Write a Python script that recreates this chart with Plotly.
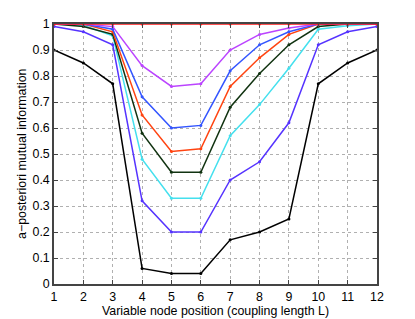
import plotly.graph_objects as go

positions = [1, 2, 3, 4, 5, 6, 7, 8, 9, 10, 11, 12]

red_vals = [1, 1, 1, 1, 1, 1, 1, 1, 1, 1, 1, 1]
purple_vals = [1.0, 1.0, 0.99, 0.84, 0.76, 0.77, 0.90, 0.96, 0.985, 1.0, 1.0, 1.0]
blue_vals = [1.0, 1.0, 0.98, 0.72, 0.60, 0.61, 0.82, 0.92, 0.97, 1.0, 1.0, 1.0]
orange_vals = [1.0, 1.0, 0.97, 0.65, 0.51, 0.52, 0.76, 0.87, 0.96, 1.0, 1.0, 1.0]
green_vals = [1.0, 0.99, 0.96, 0.58, 0.43, 0.43, 0.68, 0.81, 0.92, 0.99, 1.0, 1.0]
cyan_vals = [1.0, 0.995, 0.955, 0.48, 0.33, 0.33, 0.57, 0.69, 0.83, 0.98, 0.993, 1.0]
violet_vals = [0.99, 0.97, 0.92, 0.32, 0.20, 0.20, 0.40, 0.47, 0.62, 0.92, 0.97, 0.99]
black_vals = [0.90, 0.85, 0.77, 0.06, 0.04, 0.04, 0.17, 0.20, 0.25, 0.77, 0.85, 0.90]

y_ticks = [0, 0.1, 0.2, 0.3, 0.4, 0.5, 0.6, 0.7, 0.8, 0.9, 1]
y_tick_labels = ["0", "0.1", "0.2", "0.3", "0.4", "0.5", "0.6", "0.7", "0.8", "0.9", "1"]

series = [
    (black_vals, "#000000"),
    (violet_vals, "#5533ff"),
    (cyan_vals, "#44e0ee"),
    (green_vals, "#113311"),
    (orange_vals, "#ff4411"),
    (blue_vals, "#3355ff"),
    (purple_vals, "#bb44ff"),
    (red_vals, "#ff1a1a"),
]

fig = go.Figure()
for vals, col in series:
    fig.add_trace(go.Scatter(
        x=positions, y=vals, mode="lines+markers",
        line=dict(color=col, width=1.5),
        marker=dict(color=col, size=3),
        showlegend=False, cliponaxis=False,
    ))

font = dict(family="Liberation Sans, Arial, sans-serif", size=12.4, color="#000000")

fig.update_layout(
    width=407, height=311,
    margin=dict(l=46, r=38, t=16, b=35),
    paper_bgcolor="white", plot_bgcolor="white",
    font=font,
    xaxis=dict(
        range=[1, 12], tickmode="array", tickvals=positions,
        ticktext=[str(p) for p in positions],
        showgrid=True, gridcolor="#b0b0b0", griddash="dot", gridwidth=1,
        showline=True, linecolor="#444444", linewidth=1.5, mirror="ticks",
        ticks="inside", ticklen=4, tickcolor="#444444",
        zeroline=False, automargin=False,
        title=dict(text="Variable node position (coupling length L)", standoff=3, font=font),
    ),
    yaxis=dict(
        range=[0, 1], tickmode="array", tickvals=y_ticks, ticktext=y_tick_labels,
        showgrid=True, gridcolor="#b0b0b0", griddash="dot", gridwidth=1,
        showline=True, linecolor="#444444", linewidth=1.5, mirror="ticks",
        ticks="inside", ticklen=4, tickcolor="#444444",
        zeroline=False, automargin=False,
    ),
    annotations=[dict(
        text="a−posteriori mutual information", textangle=-90,
        xref="paper", yref="paper", x=0, y=0.5, xanchor="center", yanchor="middle",
        xshift=-32, showarrow=False, font=font,
    )],
)

fig.write_html("out.html")
